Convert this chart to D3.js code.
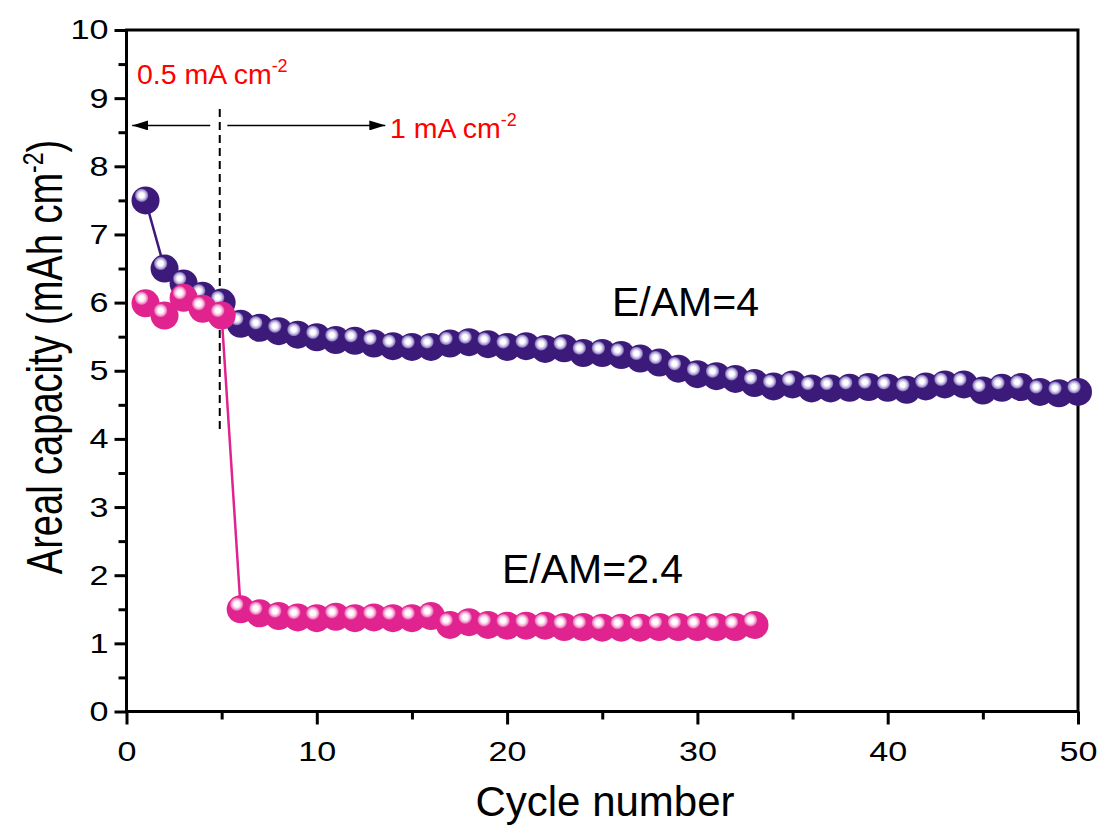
<!DOCTYPE html>
<html>
<head>
<meta charset="utf-8">
<script src="https://cdn.jsdelivr.net/npm/d3@7"></script>
<style>
  html, body { margin: 0; padding: 0; background: #ffffff; }
  svg { display: block; font-family: Arial, "Liberation Sans", sans-serif; }
</style>
</head>
<body>
<svg id="chart" width="1102" height="825"></svg>
<script>
// Areal capacity vs. cycle number for two electrolyte/active-material ratios
const cyclesHigh = d3.range(1, 51);
const capHigh = [
  7.50, 6.50, 6.28, 6.10, 6.00, 5.69, 5.63, 5.58, 5.53, 5.49,
  5.45, 5.44, 5.40, 5.36, 5.35, 5.35, 5.40, 5.42, 5.39, 5.35,
  5.36, 5.32, 5.33, 5.26, 5.26, 5.23, 5.18, 5.12, 5.03, 4.95,
  4.92, 4.88, 4.82, 4.77, 4.80, 4.74, 4.74, 4.75, 4.76, 4.75,
  4.72, 4.77, 4.80, 4.80, 4.71, 4.75, 4.76, 4.69, 4.67, 4.69
];
const cyclesLow = d3.range(1, 34);
const capLow = [
  5.99, 5.81, 6.07, 5.91, 5.81, 1.50, 1.44, 1.40, 1.38, 1.37,
  1.39, 1.37, 1.38, 1.37, 1.37, 1.40, 1.27, 1.31, 1.27, 1.26,
  1.26, 1.26, 1.24, 1.24, 1.23, 1.23, 1.23, 1.24, 1.24, 1.24,
  1.24, 1.24, 1.27
];
const xTicks = [0, 10, 20, 30, 40, 50];
const yTicks = [0, 1, 2, 3, 4, 5, 6, 7, 8, 9, 10];
const seriesLabels = ["E/AM=4", "E/AM=2.4"];
const rateLabels = ["0.5 mA cm", "1 mA cm"];

const svg = d3.select("#chart");
const plotL = 126.5, plotR = 1078, plotT = 30, plotB = 711.5;
const wide = 1.22; // horizontal stretch of the tick-label and y-title lettering

const x = d3.scaleLinear().domain([0, 50]).range([plotL, plotR]);
const y = d3.scaleLinear().domain([0, 10]).range([plotB, plotT]);

// shaded-sphere markers
const defs = svg.append("defs");
function sphereGradient(id, base, light, mid) {
  const g = defs.append("radialGradient").attr("id", id)
    .attr("cx", 0.36).attr("cy", 0.32).attr("fx", 0.36).attr("fy", 0.32).attr("r", 0.5);
  g.append("stop").attr("offset", "0%").attr("stop-color", "#ffffff");
  g.append("stop").attr("offset", "16%").attr("stop-color", "#ffffff");
  g.append("stop").attr("offset", "28%").attr("stop-color", light);
  g.append("stop").attr("offset", "42%").attr("stop-color", mid);
  g.append("stop").attr("offset", "50%").attr("stop-color", base);
  g.append("stop").attr("offset", "100%").attr("stop-color", base);
}
const purple = "#3c1a79", pink = "#e0238e";
sphereGradient("sphPurple", purple, "#d9d2ee", "#9384c6");
sphereGradient("sphPink", pink, "#fbd3ea", "#f07cbd");

// arrowheads
defs.append("marker").attr("id", "arrowHead")
  .attr("viewBox", "0 0 16 10").attr("refX", 16).attr("refY", 5)
  .attr("markerWidth", 16).attr("markerHeight", 10)
  .attr("markerUnits", "userSpaceOnUse").attr("orient", "auto-start-reverse")
  .append("path").attr("d", "M0,0 L16,5 L0,10 Z").attr("fill", "#000");

// frame
svg.append("rect").attr("x", plotL).attr("y", plotT)
  .attr("width", plotR - plotL).attr("height", plotB - plotT)
  .attr("fill", "none").attr("stroke", "#000").attr("stroke-width", 3);

// axes
const xAxis = svg.append("g").attr("transform", `translate(0,${plotB})`)
  .call(d3.axisBottom(x).tickValues(xTicks).tickSize(13).tickPadding(17).tickFormat(d3.format("d")));
const xMinor = svg.append("g").attr("transform", `translate(0,${plotB})`)
  .call(d3.axisBottom(x).tickValues([5, 15, 25, 35, 45]).tickSize(8).tickFormat(""));
const yAxis = svg.append("g").attr("transform", `translate(${plotL},0)`)
  .call(d3.axisLeft(y).tickValues(yTicks).tickSize(12).tickPadding(6).tickFormat(d3.format("d")));
const yMinor = svg.append("g").attr("transform", `translate(${plotL},0)`)
  .call(d3.axisLeft(y).tickValues(d3.range(0.5, 10, 1)).tickSize(8).tickFormat(""));

[xAxis, xMinor, yAxis, yMinor].forEach(g => {
  g.select(".domain").remove();
  g.selectAll("line").attr("stroke", "#000").attr("stroke-width", 3);
  g.selectAll("text").attr("fill", "#000").style("font-size", "28px")
    .style("font-family", "Arial, 'Liberation Sans', sans-serif");
});
xAxis.selectAll("text").attr("transform", `scale(${wide},1)`);
yAxis.selectAll("text").attr("x", -18 / wide).attr("transform", `scale(${wide},1)`);

// axis titles
svg.append("text").attr("x", 605).attr("y", 816).attr("text-anchor", "middle")
  .style("font-size", "42px").text("Cycle number");
const yt = svg.append("text").attr("transform", `translate(62,357) scale(1.3,1) rotate(-90)`)
  .attr("text-anchor", "middle").style("font-size", "38px");
yt.append("tspan").text("Areal capacity (mAh cm");
yt.append("tspan").attr("dy", -15).style("font-size", "23px").text("-2");
yt.append("tspan").attr("dy", 15).text(")");

// rate change marker
svg.append("line").attr("x1", x(4.9)).attr("x2", x(4.9))
  .attr("y1", y(8.84)).attr("y2", y(4.12))
  .attr("stroke", "#000").attr("stroke-width", 2).attr("stroke-dasharray", "8,5");
svg.append("line").attr("x1", x(4.4)).attr("x2", x(0.3))
  .attr("y1", y(8.6)).attr("y2", y(8.6))
  .attr("stroke", "#000").attr("stroke-width", 1.5).attr("marker-end", "url(#arrowHead)");
svg.append("line").attr("x1", x(5.3)).attr("x2", x(13.6))
  .attr("y1", y(8.6)).attr("y2", y(8.6))
  .attr("stroke", "#000").attr("stroke-width", 1.5).attr("marker-end", "url(#arrowHead)");

function rateText(px, py, label) {
  const t = svg.append("text").attr("x", px).attr("y", py)
    .attr("fill", "#ff0000").style("font-size", "28.5px");
  t.append("tspan").text(label);
  t.append("tspan").attr("dy", -12).style("font-size", "18px").text("-2");
}
rateText(137, 84, rateLabels[0]);
rateText(390, 138, rateLabels[1]);

// series
const line = d3.line().x(d => x(d[0])).y(d => y(d[1]));
function drawSeries(cycles, caps, color, grad) {
  const pts = cycles.map((c, i) => [c, caps[i]]);
  svg.append("path").datum(pts).attr("d", line)
    .attr("fill", "none").attr("stroke", color).attr("stroke-width", 2.5);
  svg.append("g").selectAll("circle").data(pts).join("circle")
    .attr("cx", d => x(d[0])).attr("cy", d => y(d[1])).attr("r", 14)
    .attr("fill", `url(#${grad})`);
}
drawSeries(cyclesHigh, capHigh, purple, "sphPurple");
drawSeries(cyclesLow, capLow, pink, "sphPink");

// series labels
svg.append("text").attr("x", 612).attr("y", 316).style("font-size", "41px").text(seriesLabels[0]);
svg.append("text").attr("x", 502).attr("y", 583).style("font-size", "41px").text(seriesLabels[1]);
</script>
</body>
</html>
